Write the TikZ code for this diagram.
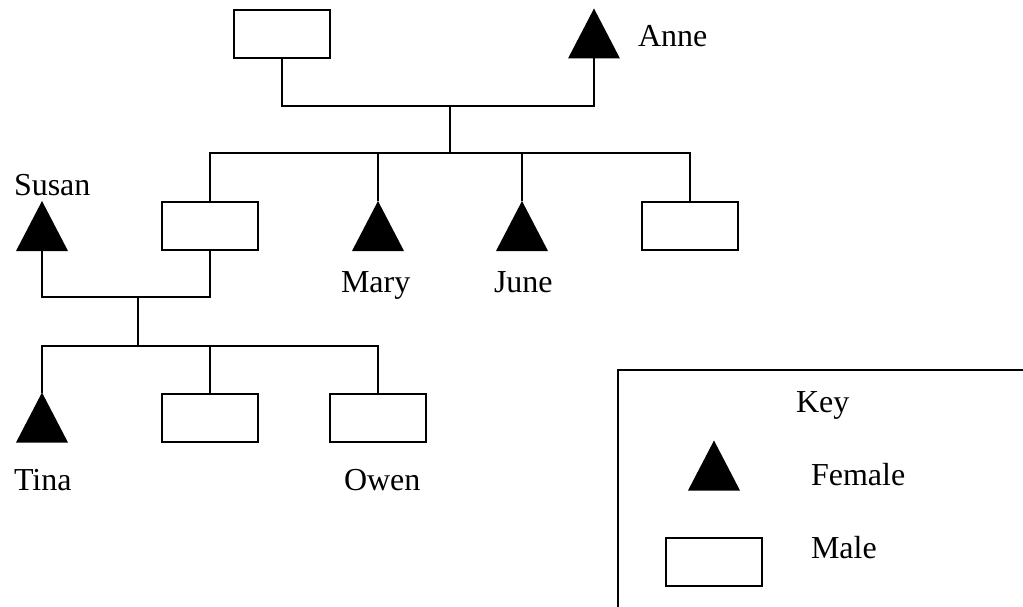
\documentclass[tikz,border=0pt]{standalone}
\usepackage{fontspec}
\setmainfont{Liberation Serif}
\begin{document}
\begin{tikzpicture}[x=1pt,y=-1pt,line width=2pt,
  male/.style={draw,rectangle,minimum width=96pt,minimum height=48pt,inner sep=0pt,line width=2pt},
  female/.style={rectangle,minimum width=50pt,minimum height=48pt,inner sep=0pt},
  lbl/.style={inner sep=0pt,anchor=base west,font=\fontsize{32}{38}\selectfont}]
\useasboundingbox (0,0) rectangle (1023,607);
% generation 1
\node[male] (g1m) at (281.5,34) {};
\node[female] (anne) at (594,33.5) {};
% generation 2
\node[male] (c1) at (210,226) {};
\node[female] (mary) at (378,226) {};
\node[female] (june) at (522,226) {};
\node[male] (c4) at (690,226) {};
\node[female] (susan) at (42,226) {};
% generation 3
\node[female] (tina) at (42,417.5) {};
\node[male] (c6) at (210,417.5) {};
\node[male] (owen) at (378,417.5) {};
% key
\node[female] (kf) at (714,465.5) {};
\node[male] (km) at (714,562) {};
% triangles
\foreach \n in {anne,mary,june,susan,tina,kf}
  \fill (\n.south west) -- (\n.north) -- (\n.south east) -- cycle;
% labels
\node[lbl] (lanne) at (637,47) {Anne};
\node[lbl] (lsusan) at (13,195) {Susan};
\node[lbl] (lmary) at (340,292) {Mary};
\node[lbl] (ljune) at (493,292) {June};
\node[lbl] (ltina) at (13,490) {Tina};
\node[lbl] (lowen) at (343,490) {Owen};
\node[lbl] (lkey) at (795,412) {Key};
\node[lbl] (lfem) at (810,485) {Female};
\node[lbl] (lmale) at (810,558) {Male};
% connectors
\coordinate (m1) at (450,106);
\coordinate (s1) at (450,153);
\draw (g1m.south) |- (m1) -| (anne.south);
\draw (m1) -- (s1);
\draw (c1.north) |- (s1) -| (c4.north);
\draw (mary.north) -- (mary.north |- s1);
\draw (june.north) -- (june.north |- s1);
\coordinate (m2) at (138,297);
\coordinate (s2) at (138,346);
\draw (susan.south) |- (m2) -| (c1.south);
\draw (m2) -- (s2);
\draw (tina.north) |- (s2) -| (owen.north);
\draw (c6.north) -- (c6.north |- s2);
% key frame
\coordinate (kt) at (1023,370);
\coordinate (kb) at (618,607);
\draw (kt) -| (kb);
\end{tikzpicture}
\end{document}
